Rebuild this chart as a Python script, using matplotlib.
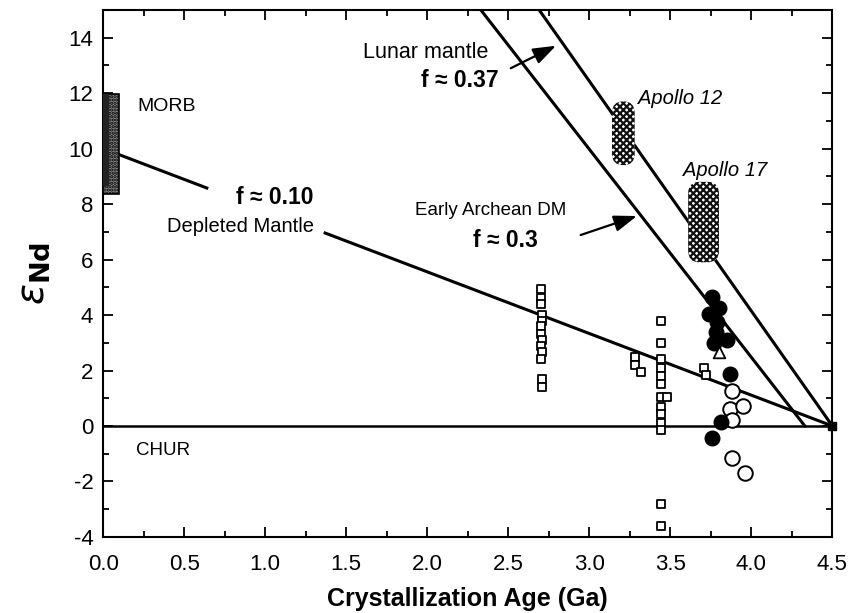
import numpy as np
import matplotlib
matplotlib.use("Agg")
from matplotlib import pyplot as plt
from matplotlib.patches import Rectangle, FancyBboxPatch

plt.rcParams['font.family'] = ['Liberation Sans', 'DejaVu Sans']
plt.rcParams['hatch.linewidth'] = 1.6
plt.rcParams['axes.unicode_minus'] = False

# open squares (age Ga, eps Nd)
sq_age = [2.70, 2.70, 2.70, 2.71, 2.71, 2.70, 2.70, 2.71, 2.70, 2.71, 2.70, 2.71, 2.71,
          3.28, 3.28, 3.32,
          3.44, 3.44, 3.44, 3.44, 3.44, 3.44, 3.44, 3.44, 3.44, 3.44, 3.44, 3.48, 3.44, 3.44,
          3.71, 3.72]
sq_eps = [4.95, 4.6, 4.4, 4.0, 3.8, 3.6, 3.3, 3.1, 2.9, 2.65, 2.4, 1.7, 1.4,
          2.5, 2.2, 1.95,
          3.8, 3.0, 2.4, 2.1, 1.8, 1.5, 1.05, 0.7, 0.43, 0.1, -0.15, 1.05, -2.8, -3.6,
          2.1, 1.85]

# filled circles
fc_age = [3.76, 3.80, 3.74, 3.79, 3.78, 3.85, 3.77, 3.87, 3.81, 3.76]
fc_eps = [4.66, 4.26, 4.04, 3.75, 3.4, 3.1, 3.0, 1.88, 0.14, -0.43]

# open circles
oc_age = [3.88, 3.87, 3.95, 3.88, 3.88, 3.96]
oc_eps = [1.26, 0.6, 0.72, 0.22, -1.15, -1.7]

# open triangle
tri_age = [3.80]
tri_eps = [2.67]

# model lines
chur_age = [0.0, 4.5]
chur_eps = [0.0, 0.0]
dm_age = [0.0, 4.5]
dm_eps = [10.0, 0.0]
early_age = [2.33, 4.33]
early_eps = [15.0, 0.0]
lunar_age = [2.69, 4.5]
lunar_eps = [15.0, 0.0]

# fields: (age0, age1, eps0, eps1)
morb_box = (0.0, 0.1, 8.35, 11.95)
apollo12_box = (3.14, 3.28, 9.4, 11.7)
apollo17_box = (3.61, 3.80, 5.9, 8.8)

fig = plt.figure(figsize=(8.52, 6.13), dpi=100)
ax = fig.add_axes([0.121, 0.124, 0.856, 0.860])

ax.plot(chur_age, chur_eps, color='black', lw=1.8, zorder=2)

# depleted mantle line, broken for its label
def dm_at(t):
    return np.interp(t, dm_age, dm_eps)
ax.plot([0.1, 0.64], [dm_at(0.1), dm_at(0.64)], color='black', lw=2.2, zorder=2)
ax.plot([1.37, 4.5], [dm_at(1.37), dm_at(4.5)], color='black', lw=2.2, zorder=2)

ax.plot(early_age, early_eps, color='black', lw=2.2, zorder=2)
ax.plot(lunar_age, lunar_eps, color='black', lw=2.2, zorder=2)

# MORB bar
a0, a1, e0, e1 = morb_box
ax.add_patch(Rectangle((a0, e0), a1 - a0, e1 - e0, facecolor='#8a8a8a',
                       edgecolor='black', hatch='.....', lw=1.2, zorder=3))
ax.add_patch(Rectangle((a0, e0 + 0.3), 0.035, e1 - e0 - 0.3, facecolor='#222222',
                       edgecolor='none', zorder=3))

# Apollo fields
for box in [apollo12_box, apollo17_box]:
    a0, a1, e0, e1 = box
    ax.add_patch(FancyBboxPatch((a0, e0), a1 - a0, e1 - e0,
                                boxstyle="round,pad=0,rounding_size=0.07",
                                mutation_aspect=5.85, facecolor='white',
                                edgecolor='#111111', hatch='xxxxx', lw=0, zorder=3))

ax.scatter(sq_age, sq_eps, marker='s', s=38, facecolor='white', edgecolor='black',
           linewidths=1.3, zorder=4)
ax.scatter(oc_age, oc_eps, marker='o', s=110, facecolor='white', edgecolor='black',
           linewidths=1.4, zorder=4)
ax.scatter(fc_age, fc_eps, marker='o', s=110, facecolor='black', edgecolor='black',
           linewidths=1.0, zorder=5)
ax.scatter(tri_age, tri_eps, marker='^', s=70, facecolor='white', edgecolor='black',
           linewidths=1.3, zorder=6)
ax.scatter([4.5], [0.0], marker='s', s=40, color='black', zorder=6, clip_on=False)

# labels
ax.text(0.21, 11.5, 'MORB', fontsize=14, va='center', ha='left')
ax.text(0.2, -0.87, 'CHUR', fontsize=13.5, va='center', ha='left')
ax.text(1.06, 8.25, 'f ≈ 0.10', fontsize=16.5, fontweight='bold', va='center', ha='center')
ax.text(0.85, 7.2, 'Depleted Mantle', fontsize=14.5, va='center', ha='center')
ax.text(2.38, 13.45, 'Lunar mantle', fontsize=15.5, va='center', ha='right')
ax.text(2.2, 12.45, 'f ≈ 0.37', fontsize=16.5, fontweight='bold', va='center', ha='center')
ax.text(2.39, 7.75, 'Early Archean DM', fontsize=13.5, va='center', ha='center')
ax.text(2.48, 6.7, 'f ≈ 0.3', fontsize=16.5, fontweight='bold', va='center', ha='center')
ax.text(3.30, 11.8, 'Apollo 12', fontsize=14.5, style='italic', va='center', ha='left')
ax.text(3.58, 9.2, 'Apollo 17', fontsize=14.5, style='italic', va='center', ha='left')

arrow = dict(arrowstyle='-|>,head_length=1.4,head_width=0.5', color='black', lw=1.6)
ax.annotate('', xy=(2.81, 13.75), xytext=(2.50, 12.85), arrowprops=arrow)
ax.annotate('', xy=(3.31, 7.6), xytext=(2.93, 6.85), arrowprops=arrow)

ax.set_xlim(0, 4.5)
ax.set_ylim(-4, 15)
ax.set_xticks(np.arange(0, 4.51, 0.5))
ax.set_xticks(np.arange(0, 4.51, 0.25), minor=True)
ax.set_yticks(np.arange(-4, 15, 2))
ax.set_yticks(np.arange(-4, 15, 1), minor=True)
ax.xaxis.set_major_formatter(matplotlib.ticker.FormatStrFormatter('%.1f'))
ax.tick_params(which='both', direction='in', top=True, right=True, labelsize=16, width=1.3)
ax.tick_params(which='major', length=7, pad=7)
ax.tick_params(axis='x', which='major', pad=12)
ax.tick_params(which='minor', length=4)
for sp in ax.spines.values():
    sp.set_linewidth(1.5)

ax.set_xlabel('Crystallization Age (Ga)', fontsize=18, fontweight='bold', labelpad=9)
ax.set_ylabel(r'$\varepsilon_{\mathbf{Nd}}$', fontsize=28, labelpad=12)

fig.savefig('out.png', dpi=100)
